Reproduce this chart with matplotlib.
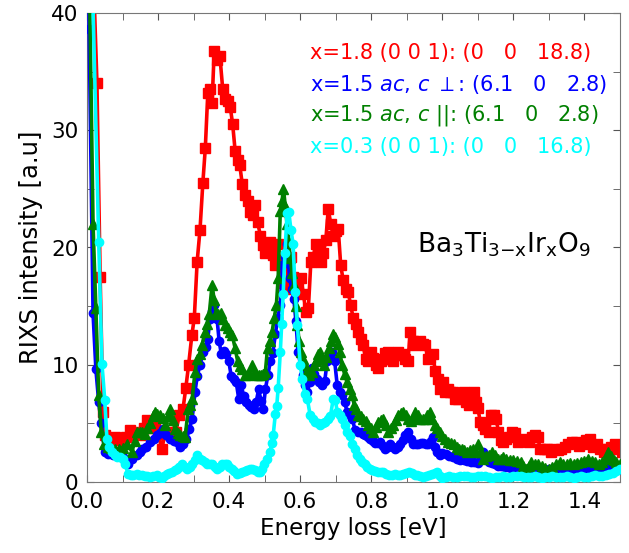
import matplotlib
matplotlib.use('Agg')
import matplotlib.pyplot as plt
from matplotlib.ticker import MultipleLocator

# RIXS spectra of Ba3Ti(3-x)IrxO9
red_e = [0.0, 0.028, 0.037, 0.045, 0.05, 0.065, 0.078, 0.09, 0.1, 0.11, 0.12, 0.13, 0.14, 0.15, 0.16, 0.17,
         0.18, 0.19, 0.2, 0.21, 0.22, 0.23, 0.24, 0.25, 0.26, 0.27, 0.278, 0.286, 0.295, 0.302, 0.31, 0.318,
         0.326, 0.333, 0.34, 0.347, 0.352, 0.358, 0.366, 0.374, 0.382, 0.389, 0.396, 0.403, 0.41, 0.417,
         0.424, 0.43, 0.437, 0.444, 0.452, 0.46, 0.467, 0.474, 0.48, 0.488, 0.495, 0.502, 0.509, 0.516,
         0.523, 0.53, 0.537, 0.545, 0.553, 0.56, 0.567, 0.574, 0.581, 0.588, 0.595, 0.602, 0.609, 0.616,
         0.623, 0.63, 0.637, 0.644, 0.651, 0.658, 0.665, 0.672, 0.679, 0.686, 0.693, 0.7, 0.707, 0.714,
         0.721, 0.728, 0.735, 0.742, 0.749, 0.756, 0.763, 0.77, 0.777, 0.784, 0.791, 0.798, 0.805, 0.812,
         0.819, 0.826, 0.833, 0.84, 0.847, 0.854, 0.861, 0.868, 0.875, 0.882, 0.889, 0.896, 0.903, 0.91,
         0.917, 0.924, 0.931, 0.938, 0.945, 0.952, 0.959, 0.966, 0.973, 0.98, 0.987, 0.994, 1.001, 1.008,
         1.015, 1.022, 1.03, 1.037, 1.044, 1.052, 1.06, 1.067, 1.074, 1.081, 1.088, 1.095, 1.1, 1.107,
         1.114, 1.121, 1.13, 1.137, 1.144, 1.151, 1.158, 1.165, 1.172, 1.18, 1.188, 1.196, 1.204, 1.212,
         1.22, 1.228, 1.236, 1.244, 1.252, 1.26, 1.268, 1.276, 1.285, 1.295, 1.305, 1.315, 1.325, 1.335,
         1.345, 1.355, 1.365, 1.375, 1.385, 1.395, 1.405, 1.415, 1.425, 1.435, 1.445, 1.455, 1.465, 1.475,
         1.485, 1.495, 1.505]
red_i = [60, 34, 17.5, 6.0, 4.0, 3.4, 3.8, 3.6, 3.4, 3.8, 4.4, 4.0, 4.3, 4.0, 4.6, 5.3,
         4.6, 4.8, 4.3, 2.8, 4.1, 4.3, 4.0, 4.3, 5.7, 6.2, 8.0, 10.0, 12.5, 14.0, 18.8, 21.5,
         25.5, 28.5, 33.2, 33.5, 32.3, 36.8, 36.0, 36.3, 33.5, 32.7, 32.5, 32.0, 30.5, 28.2,
         27.5, 27.0, 25.4, 24.5, 24.0, 23.0, 22.8, 23.6, 22.2, 21.0, 20.2, 19.5, 20.3, 20.5,
         19.4, 18.5, 20.3, 18.5, 17.0, 16.5, 18.5, 19.2, 17.5, 16.6, 16.8, 17.4, 16.0, 14.5,
         14.8, 18.8, 19.2, 20.3, 19.7, 18.8, 19.5, 20.6, 23.3, 22.0, 21.0, 21.4, 21.6, 18.5,
         17.2, 16.5, 16.2, 15.1, 14.0, 13.5, 12.8, 12.2, 11.7, 10.5, 10.3, 11.1, 10.6, 10.0,
         9.7, 10.3, 10.5, 11.0, 11.1, 10.5, 10.3, 10.8, 11.1, 10.8, 10.9, 10.5, 10.3, 12.8,
         12.0, 11.7, 11.9, 12.0, 11.8, 11.7, 10.5, 10.6, 10.9, 9.5, 8.8, 7.9, 8.5, 7.7,
         7.9, 7.7, 7.7, 7.1, 7.1, 7.4, 7.7, 6.8, 6.6, 7.0, 7.7, 6.8, 6.3, 5.1,
         4.9, 4.5, 4.3, 5.7, 5.7, 5.4, 4.3, 3.6, 3.4, 3.7, 3.8, 4.3, 4.2, 3.4,
         3.6, 3.7, 3.5, 3.4, 3.8, 4.0, 3.8, 2.8, 2.8, 2.8, 2.6, 2.8, 2.7, 2.8,
         3.0, 3.2, 3.4, 3.4, 3.1, 3.2, 3.6, 3.7, 3.0, 3.2, 2.8, 2.6, 2.8, 3.0,
         3.2, 2.8, 2.6]

blue_e = [0.0, 0.006, 0.017, 0.025, 0.033, 0.04, 0.05, 0.06, 0.073, 0.085, 0.1, 0.108, 0.116, 0.128, 0.14,
          0.148, 0.155, 0.165, 0.178, 0.188, 0.197, 0.206, 0.214, 0.222, 0.234, 0.244, 0.253, 0.262, 0.27,
          0.28, 0.288, 0.296, 0.304, 0.31, 0.318, 0.327, 0.334, 0.34, 0.346, 0.352, 0.358, 0.366, 0.372,
          0.378, 0.385, 0.392, 0.399, 0.406, 0.413, 0.42, 0.427, 0.434, 0.441, 0.448, 0.455, 0.462, 0.469,
          0.476, 0.483, 0.49, 0.496, 0.502, 0.509, 0.516, 0.523, 0.53, 0.537, 0.544, 0.55, 0.557, 0.563,
          0.57, 0.576, 0.582, 0.588, 0.594, 0.601, 0.608, 0.614, 0.62, 0.627, 0.633, 0.64, 0.647, 0.654,
          0.662, 0.669, 0.676, 0.683, 0.69, 0.697, 0.704, 0.711, 0.718, 0.725, 0.732, 0.739, 0.746, 0.755,
          0.762, 0.77, 0.777, 0.783, 0.79, 0.797, 0.804, 0.811, 0.818, 0.825, 0.832, 0.84, 0.847, 0.854,
          0.861, 0.868, 0.875, 0.882, 0.889, 0.896, 0.904, 0.911, 0.918, 0.925, 0.932, 0.939, 0.946, 0.953,
          0.96, 0.967, 0.975, 0.98, 0.985, 0.994, 1.0, 1.01, 1.02, 1.03, 1.04, 1.05, 1.06, 1.07, 1.08,
          1.09, 1.1, 1.108, 1.115, 1.122, 1.13, 1.14, 1.148, 1.157, 1.166, 1.175, 1.184, 1.193, 1.202,
          1.211, 1.22, 1.23, 1.24, 1.25, 1.26, 1.27, 1.28, 1.29, 1.3, 1.31, 1.32, 1.33, 1.34, 1.35, 1.36,
          1.37, 1.38, 1.39, 1.4, 1.41, 1.42, 1.43, 1.44, 1.45, 1.46, 1.47, 1.48, 1.49, 1.5]
blue_i = [60, 38.6, 14.4, 9.6, 6.8, 5.0, 2.6, 2.4, 2.3, 2.2, 2.1, 1.9, 1.5, 2.0, 2.3,
          2.6, 2.8, 3.0, 3.4, 3.7, 4.0, 4.2, 4.5, 4.0, 3.7, 3.5, 3.4, 3.0, 3.2,
          3.7, 4.5, 5.4, 7.7, 9.0, 10.0, 11.1, 11.5, 12.2, 13.9, 14.6, 15.1, 13.9, 12.0,
          10.9, 11.2, 10.9, 10.3, 9.0, 8.8, 8.5, 7.1, 8.3, 7.3, 6.8, 6.6, 6.4, 6.2,
          6.8, 7.9, 6.9, 6.2, 7.9, 9.1, 10.3, 11.0, 12.6, 14.0, 15.1, 18.5, 19.2, 20.3,
          17.4, 16.5, 15.6, 13.7, 11.1, 10.0, 9.1, 8.3, 7.7, 8.5, 9.7, 9.2, 8.8, 8.5,
          8.3, 8.6, 10.3, 10.5, 11.1, 10.3, 8.3, 7.7, 7.4, 6.8, 6.0, 5.7, 5.4, 4.4,
          4.3, 4.3, 4.1, 4.0, 3.8, 3.7, 3.5, 3.3, 3.3, 3.4, 3.1, 2.8, 3.0, 3.2,
          3.0, 2.8, 3.0, 3.2, 3.6, 4.0, 4.3, 3.7, 3.2, 3.2, 3.2, 3.3, 3.3, 3.2,
          3.2, 3.5, 3.8, 3.0, 2.6, 2.3, 2.5, 2.4, 2.2, 2.1, 2.0, 1.9, 1.9, 1.8, 1.7,
          1.7, 1.6, 2.0, 2.6, 2.0, 1.7, 1.6, 1.5, 1.4, 1.4, 1.3, 1.3, 1.2, 1.2,
          1.2, 1.1, 1.0, 0.95, 0.85, 0.9, 1.0, 1.0, 1.05, 1.1, 1.0, 0.9, 0.85, 0.9, 1.0, 1.0,
          0.95, 1.0, 1.1, 1.1, 1.1, 1.2, 1.1, 1.2, 1.3, 1.4, 1.5, 1.3, 1.2, 1.1]

green_e = [0.0, 0.008, 0.017, 0.025, 0.033, 0.04, 0.048, 0.058, 0.068, 0.079, 0.09, 0.1, 0.113, 0.127,
           0.134, 0.14, 0.148, 0.155, 0.163, 0.17, 0.178, 0.185, 0.19, 0.198, 0.206, 0.213, 0.22, 0.227,
           0.234, 0.241, 0.248, 0.255, 0.262, 0.269, 0.276, 0.285, 0.29, 0.296, 0.304, 0.31, 0.317, 0.324,
           0.332, 0.338, 0.344, 0.352, 0.358, 0.364, 0.37, 0.376, 0.383, 0.389, 0.396, 0.402, 0.409, 0.417,
           0.424, 0.431, 0.437, 0.444, 0.45, 0.457, 0.465, 0.471, 0.478, 0.484, 0.49, 0.496, 0.502, 0.508,
           0.515, 0.521, 0.527, 0.533, 0.538, 0.544, 0.549, 0.553, 0.558, 0.563, 0.568, 0.572, 0.577, 0.582,
           0.587, 0.592, 0.597, 0.603, 0.609, 0.614, 0.62, 0.626, 0.632, 0.638, 0.644, 0.65, 0.656, 0.662,
           0.668, 0.674, 0.68, 0.687, 0.693, 0.699, 0.705, 0.711, 0.718, 0.725, 0.732, 0.739, 0.746, 0.752,
           0.758, 0.764, 0.77, 0.777, 0.784, 0.792, 0.799, 0.806, 0.813, 0.82, 0.827, 0.834, 0.841, 0.848,
           0.855, 0.862, 0.869, 0.876, 0.883, 0.89, 0.897, 0.904, 0.911, 0.917, 0.924, 0.931, 0.938, 0.945,
           0.952, 0.958, 0.965, 0.972, 0.979, 0.986, 0.993, 1.0, 1.008, 1.017, 1.025, 1.033, 1.04, 1.047,
           1.055, 1.062, 1.07, 1.078, 1.087, 1.094, 1.1, 1.108, 1.115, 1.122, 1.13, 1.14, 1.148, 1.156,
           1.164, 1.172, 1.18, 1.19, 1.2, 1.21, 1.22, 1.228, 1.235, 1.243, 1.25, 1.26, 1.27, 1.28, 1.29,
           1.3, 1.31, 1.32, 1.33, 1.34, 1.35, 1.36, 1.37, 1.38, 1.39, 1.4, 1.41, 1.42, 1.43, 1.44, 1.45,
           1.46, 1.467, 1.475, 1.483, 1.49, 1.5]
green_i = [60, 40.5, 22.0, 14.8, 7.4, 4.3, 3.2, 3.0, 2.9, 2.8, 2.8, 2.9, 3.2, 2.6,
           3.5, 4.3, 4.3, 4.3, 4.1, 4.6, 5.0, 5.6, 6.0, 5.8, 5.7, 5.5, 4.9, 5.6,
           6.2, 5.3, 4.5, 4.2, 4.0, 3.9, 3.8, 6.2, 6.6, 7.1, 9.4, 10.5, 10.9, 11.7,
           12.8, 13.5, 14.3, 16.8, 15.5, 14.4, 14.3, 14.4, 13.9, 13.4, 13.1, 12.8, 12.5, 11.4,
           10.3, 9.9, 9.6, 9.1, 9.1, 9.2, 10.0, 9.4, 9.1, 9.1, 9.1, 9.2, 9.4, 11.4,
           12.0, 12.8, 14.0, 15.1, 17.4, 23.1, 24.0, 25.0, 23.5, 22.0, 20.5, 19.1, 17.8, 16.8,
           15.0, 13.4, 12.0, 11.1, 10.5, 10.0, 9.5, 9.1, 9.4, 10.0, 10.3, 10.9, 11.1, 10.5,
           10.0, 10.7, 11.4, 12.0, 12.6, 12.4, 11.8, 11.1, 10.0, 9.2, 8.5, 7.9, 7.4, 6.6,
           6.2, 5.7, 5.6, 5.4, 5.2, 4.9, 4.6, 4.3, 4.7, 5.1, 5.3, 5.4, 4.9, 4.3,
           4.6, 4.9, 5.3, 5.7, 5.9, 6.0, 5.7, 5.4, 5.2, 5.5, 6.0, 5.7, 5.4, 5.4,
           5.4, 5.7, 6.0, 5.4, 4.9, 4.6, 4.3, 3.9, 3.7, 3.4, 3.3, 3.2, 3.0, 2.8,
           2.8, 2.7, 2.6, 2.7, 2.8, 2.6, 3.2, 2.6, 2.0, 2.2, 2.3, 2.6, 2.3, 2.0,
           2.0, 2.1, 2.0, 1.9, 1.9, 1.8, 1.7, 1.4, 1.1, 1.4, 1.7, 1.5, 1.5, 1.4, 1.2,
           1.1, 1.3, 1.5, 1.7, 1.5, 1.5, 1.6, 1.5, 1.6, 1.7, 1.8, 2.0, 1.8, 1.7, 1.5, 1.7,
           2.0, 2.6, 2.2, 1.9, 1.7, 1.5]

cyan_e = [0.0, 0.017, 0.033, 0.042, 0.05, 0.056, 0.063, 0.07, 0.078, 0.085, 0.093, 0.1, 0.107, 0.116,
          0.123, 0.13, 0.14, 0.147, 0.155, 0.163, 0.17, 0.178, 0.187, 0.197, 0.204, 0.21, 0.217, 0.225,
          0.232, 0.24, 0.247, 0.253, 0.26, 0.268, 0.275, 0.282, 0.289, 0.296, 0.303, 0.31, 0.317, 0.324,
          0.331, 0.338, 0.345, 0.352, 0.359, 0.366, 0.373, 0.38, 0.387, 0.394, 0.401, 0.408, 0.415, 0.422,
          0.43, 0.437, 0.444, 0.45, 0.458, 0.465, 0.472, 0.48, 0.487, 0.493, 0.499, 0.507, 0.515, 0.52,
          0.524, 0.53, 0.534, 0.538, 0.544, 0.548, 0.552, 0.557, 0.563, 0.568, 0.574, 0.58, 0.586, 0.592,
          0.6, 0.606, 0.613, 0.62, 0.628, 0.635, 0.642, 0.649, 0.656, 0.663, 0.67, 0.677, 0.685, 0.693,
          0.699, 0.704, 0.711, 0.718, 0.725, 0.732, 0.739, 0.746, 0.753, 0.76, 0.768, 0.775, 0.782, 0.789,
          0.796, 0.803, 0.81, 0.818, 0.826, 0.834, 0.842, 0.85, 0.858, 0.866, 0.874, 0.882, 0.89, 0.898,
          0.906, 0.914, 0.922, 0.93, 0.938, 0.946, 0.954, 0.962, 0.97, 0.978, 0.985, 0.993, 1.0, 1.01,
          1.02, 1.03, 1.04, 1.05, 1.06, 1.07, 1.08, 1.09, 1.1, 1.11, 1.12, 1.13, 1.14, 1.15, 1.16, 1.17,
          1.18, 1.19, 1.2, 1.21, 1.22, 1.23, 1.24, 1.25, 1.26, 1.27, 1.28, 1.29, 1.3, 1.31, 1.32, 1.33,
          1.34, 1.35, 1.36, 1.37, 1.38, 1.39, 1.4, 1.41, 1.42, 1.43, 1.44, 1.45, 1.46, 1.47, 1.48, 1.49, 1.5]
cyan_i = [60, 40.5, 20.5, 10.1, 7.0, 3.7, 3.0, 2.6, 2.3, 2.1, 2.1, 2.0, 1.5, 0.7,
          0.6, 0.6, 0.7, 0.6, 0.6, 0.5, 0.5, 0.4, 0.5, 0.6, 0.4, 0.3, 0.5, 0.7,
          0.8, 0.85, 1.0, 1.1, 1.3, 1.5, 1.3, 1.1, 1.3, 1.5, 1.9, 2.3, 2.0, 1.9,
          1.7, 1.5, 1.5, 1.5, 1.3, 1.1, 1.3, 1.5, 1.5, 1.5, 1.3, 1.1, 0.9, 0.7,
          0.8, 0.85, 0.9, 1.0, 1.1, 1.1, 1.0, 0.85, 0.85, 1.1, 1.5, 2.0, 2.6, 3.3,
          4.0, 5.8, 6.5, 8.0, 11.1, 13.5, 16.0, 19.5, 22.9, 23.0, 21.5, 20.3, 16.2, 13.4,
          10.0, 8.8, 7.5, 7.1, 5.7, 5.4, 5.1, 5.0, 4.9, 5.0, 5.1, 5.4, 5.6, 7.1,
          7.0, 6.0, 5.7, 5.4, 4.9, 4.3, 3.9, 3.2, 2.8, 2.3, 2.0, 1.7, 1.5, 1.3,
          1.1, 1.0, 0.9, 0.85, 0.85, 0.85, 0.7, 0.6, 0.6, 0.65, 0.6, 0.6, 0.7, 0.8,
          0.85, 0.75, 0.6, 0.6, 0.5, 0.4, 0.5, 0.6, 0.7, 0.8, 0.85, 0.5, 0.3, 0.4,
          0.5, 0.45, 0.4, 0.5, 0.55, 0.5, 0.45, 0.4, 0.5, 0.55, 0.5, 0.4, 0.35, 0.4, 0.45, 0.5,
          0.45, 0.4, 0.5, 0.55, 0.5, 0.45, 0.4, 0.45, 0.5, 0.4, 0.35, 0.4, 0.45, 0.5, 0.45, 0.4,
          0.45, 0.5, 0.4, 0.35, 0.45, 0.5, 0.45, 0.4, 0.5, 0.6, 0.5, 0.55, 0.6, 0.7, 0.8, 0.9, 1.1]

legend_lines = [
    ('x=1.8 (0 0 1): (0   0   18.8)', 'red'),
    (r'x=1.5 $ac$, $c$ $\perp$: (6.1   0   2.8)', 'blue'),
    (r'x=1.5 $ac$, $c$ ||: (6.1   0   2.8)', 'green'),
    ('x=0.3 (0 0 1): (0   0   16.8)', 'cyan'),
]

plt.rcParams['font.family'] = 'DejaVu Sans'
plt.rcParams['mathtext.fontset'] = 'custom'
plt.rcParams['mathtext.it'] = 'DejaVu Sans:italic'
plt.rcParams['mathtext.rm'] = 'DejaVu Sans'

fig = plt.figure(figsize=(6.29, 5.53), dpi=100)
ax = fig.add_axes([87 / 629, 71 / 553, 533 / 629, 469 / 553])

ax.plot(red_e, red_i, '-s', color='red', lw=2.6, ms=6.5, zorder=2)
ax.plot(blue_e, blue_i, '-o', color='blue', lw=2.6, ms=6, zorder=3)
ax.plot(green_e, green_i, '-^', color='green', lw=2.6, ms=7, zorder=4)
ax.plot(cyan_e, cyan_i, '-o', color='cyan', lw=2.6, ms=6, zorder=5)

ax.set_xlim(0, 1.5)
ax.set_ylim(0, 40)
ax.xaxis.set_major_locator(MultipleLocator(0.2))
ax.xaxis.set_minor_locator(MultipleLocator(0.1))
ax.yaxis.set_major_locator(MultipleLocator(10))
ax.yaxis.set_minor_locator(MultipleLocator(5))
ax.xaxis.set_major_formatter(plt.FormatStrFormatter('%.1f'))
ax.tick_params(which='both', direction='in', top=True, right=True, labelsize=15.5, color='#555555',
               length=5)
ax.tick_params(axis='x', pad=7)
ax.tick_params(axis='y', pad=6)
for s in ax.spines.values():
    s.set_color('#777777')

ax.set_xlabel('Energy loss [eV]', fontsize=16.5, labelpad=4)
ax.set_ylabel('RIXS intensity [a.u]', fontsize=17.5, labelpad=6)

for k, (txt, col) in enumerate(legend_lines):
    ax.text(0.418, 0.915 - k * 0.067, txt, color=col, fontsize=15, transform=ax.transAxes, va='center')

ax.text(0.62, 0.505, r'Ba$_3$Ti$_{3\mathrm{-x}}$Ir$_\mathrm{x}$O$_9$', fontsize=19,
        transform=ax.transAxes, va='center')

fig.savefig('out.png', dpi=100)
